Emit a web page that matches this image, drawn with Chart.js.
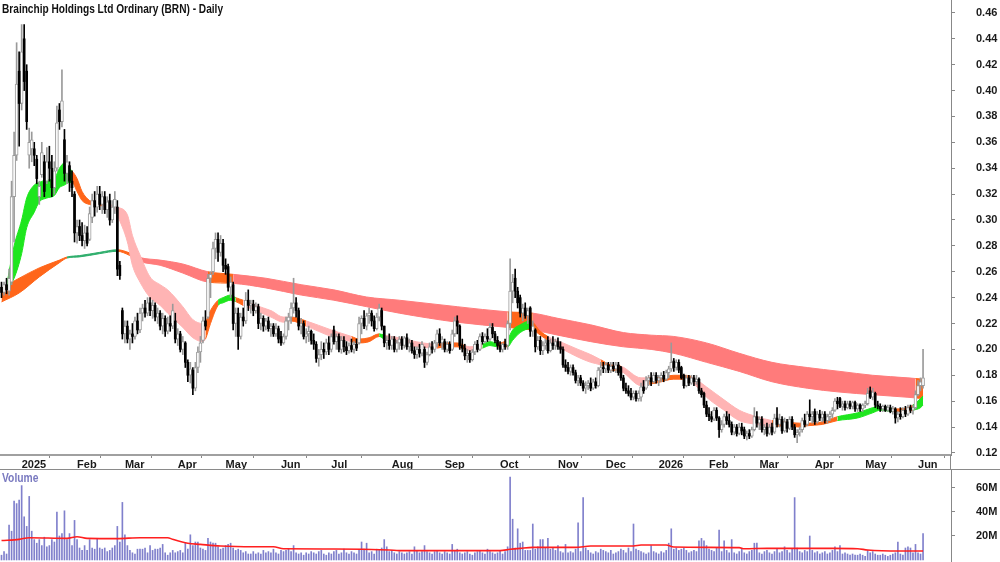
<!DOCTYPE html>
<html>
<head>
<meta charset="utf-8">
<title>Brainchip Holdings Ltd Ordinary (BRN) - Daily</title>
<script src="https://cdn.jsdelivr.net/npm/chart.js@4.4.1/dist/chart.umd.min.js"></script>
<style>
  html, body { margin: 0; padding: 0; background: #fff; }
  #wrap { position: relative; width: 1000px; height: 562px; overflow: hidden;
          font-family: "Liberation Sans", Arial, sans-serif; }
  #price { position: absolute; left: 0; top: 0; }
  #volume { position: absolute; left: 0; top: 470px; }
  .lbl { position: absolute; font-weight: bold; font-size: 12px; line-height: 14px; white-space: nowrap; transform-origin: 0 0; }
  #title { left: 2px; top: 2px; color: #111; }
  #volTitle { left: 2px; top: 471px; color: #7a7ac0; }
  .rule { position: absolute; background: #8a8a8a; }
</style>
</head>
<body>
<div id="wrap">
  <canvas id="price" width="1000" height="469"></canvas>
  <canvas id="volume" width="1000" height="92"></canvas>
  <div class="rule" style="left:0; top:469px; width:1000px; height:1px;"></div>
  <div class="rule" style="left:950px; top:455px; width:1px; height:15px;"></div>
  <div id="title" class="lbl">Brainchip Holdings Ltd Ordinary (BRN) - Daily</div>
  <div id="volTitle" class="lbl">Volume</div>
</div>
<script>
var FONT = '"Liberation Sans", Arial, sans-serif';

// trading days, day 0 = 18 Dec 2024
var monthStart = [8, 30, 49, 70, 89, 111, 131, 155, 176, 198, 221, 240, 261, 281, 301, 323, 343, 364];
var monthLabel = ['2025', 'Feb', 'Mar', 'Apr', 'May', 'Jun', 'Jul', 'Aug', 'Sep', 'Oct', 'Nov', 'Dec', '2026', 'Feb', 'Mar', 'Apr', 'May', 'Jun'];
var priceTicks = [0.12, 0.14, 0.16, 0.18, 0.20, 0.22, 0.24, 0.26, 0.28, 0.30, 0.32, 0.34, 0.36, 0.38, 0.40, 0.42, 0.44, 0.46];
var volumeTicks = [20, 40, 60];

var open = [
.248,.244,.250,.245,.252,.318,.350,.415,.390,.440,
.415,.350,.355,.355,.347,.318,.335,.345,.330,.345,
.340,.325,.340,.385,.376,.362,.336,.342,.330,.320,
.290,.295,.288,.284,.290,.285,.302,.315,.310,.320,
.312,.318,.308,.315,.300,.310,.310,.265,.230,.212,
.218,.208,.212,.210,.222,.215,.228,.232,.228,.236,
.230,.234,.225,.228,.218,.224,.214,.220,.218,.222,
.208,.212,.200,.205,.190,.180,.184,.170,.186,.198,
.207,.222,.225,.255,.260,.278,.285,.275,.282,.265,
.264,.248,.250,.220,.228,.210,.225,.222,.238,.234,
.235,.230,.233,.220,.224,.218,.222,.216,.218,.212,
.216,.210,.205,.210,.222,.225,.232,.236,.230,.218,
.220,.210,.212,.214,.207,.204,.193,.196,.200,.198,
.205,.200,.215,.206,.210,.200,.207,.202,.199,.203,
.200,.204,.205,.220,.224,.218,.226,.228,.222,.216,
.225,.230,.218,.205,.207,.203,.208,.200,.205,.208,
.203,.209,.202,.205,.199,.196,.200,.197,.200,.190,
.196,.202,.200,.205,.212,.205,.206,.200,.204,.200,
.212,.222,.218,.203,.201,.195,.197,.192,.198,.204,
.200,.210,.206,.210,.208,.217,.212,.207,.203,.200,
.204,.203,.220,.245,.255,.245,.240,.228,.232,.226,
.232,.214,.215,.202,.207,.199,.203,.207,.199,.205,
.203,.206,.202,.200,.188,.186,.183,.186,.182,.176,
.178,.174,.170,.172,.174,.170,.175,.172,.184,.186,
.185,.188,.184,.187,.185,.188,.186,.178,.170,.168,
.166,.163,.166,.162,.163,.171,.170,.176,.178,.175,
.180,.176,.178,.180,.177,.182,.185,.191,.186,.190,
.186,.180,.172,.178,.174,.178,.175,.177,.168,.166,
.157,.150,.148,.146,.153,.147,.138,.142,.148,.145,
.142,.136,.140,.135,.140,.138,.133,.135,.133,.138,
.148,.143,.146,.138,.140,.135,.140,.136,.147,.142,
.146,.137,.144,.139,.146,.140,.134,.136,.138,.145,
.142,.150,.148,.152,.144,.150,.147,.150,.145,.148,
.150,.153,.160,.162,.156,.158,.155,.158,.156,.159,
.154,.157,.154,.157,.158,.168,.163,.166,.157,.156,
.154,.156,.153,.155,.152,.154,.147,.150,.148,.153,
.150,.155,.153,.155,.165,.172,.172];
var high = [
.252,.252,.255,.262,.330,.368,.437,.430,.451,.451,
.420,.371,.368,.360,.350,.330,.360,.350,.356,.357,
.350,.345,.388,.390,.416,.370,.350,.345,.338,.322,
.300,.300,.298,.296,.295,.310,.320,.322,.326,.326,
.322,.322,.318,.320,.315,.322,.315,.268,.232,.222,
.222,.215,.220,.225,.228,.232,.235,.238,.240,.240,
.238,.236,.232,.230,.228,.226,.225,.226,.235,.228,
.216,.214,.210,.206,.192,.190,.186,.190,.202,.210,
.225,.230,.258,.260,.283,.290,.290,.288,.285,.270,
.266,.256,.252,.232,.232,.228,.232,.244,.246,.238,
.238,.236,.235,.228,.226,.224,.225,.220,.220,.220,
.218,.214,.212,.225,.228,.236,.255,.240,.232,.224,
.222,.216,.218,.215,.212,.206,.200,.206,.205,.208,
.210,.212,.218,.212,.212,.210,.210,.206,.205,.208,
.206,.208,.225,.226,.230,.228,.232,.230,.226,.228,
.235,.232,.218,.210,.212,.210,.210,.207,.210,.210,
.210,.212,.208,.207,.202,.202,.204,.206,.202,.198,
.205,.206,.207,.215,.216,.210,.208,.206,.206,.215,
.225,.226,.219,.208,.204,.200,.199,.200,.206,.207,
.212,.213,.212,.216,.220,.220,.214,.210,.206,.205,
.208,.222,.270,.258,.262,.248,.242,.235,.236,.232,
.233,.222,.216,.210,.210,.206,.208,.210,.208,.210,
.208,.209,.206,.202,.192,.190,.188,.188,.184,.180,
.180,.176,.175,.176,.178,.177,.178,.186,.190,.190,
.190,.190,.190,.190,.190,.190,.187,.180,.174,.172,
.170,.168,.168,.168,.174,.176,.179,.180,.182,.182,
.182,.180,.182,.183,.184,.187,.205,.193,.192,.192,
.187,.181,.180,.180,.180,.180,.180,.178,.170,.167,
.160,.155,.152,.155,.155,.148,.145,.150,.152,.150,
.144,.142,.142,.143,.143,.140,.137,.138,.140,.155,
.152,.148,.148,.142,.143,.142,.143,.150,.155,.150,
.148,.147,.146,.148,.148,.142,.138,.140,.147,.150,
.152,.161,.152,.154,.152,.153,.152,.152,.150,.152,
.155,.162,.163,.163,.160,.160,.160,.160,.160,.160,
.158,.158,.158,.160,.170,.171,.170,.167,.160,.158,
.157,.157,.157,.157,.156,.155,.152,.155,.155,.156,
.157,.157,.157,.168,.176,.178,.200];
var low = [
.240,.242,.243,.242,.250,.283,.346,.357,.385,.400,
.370,.340,.345,.342,.328,.312,.333,.318,.328,.330,
.318,.320,.338,.370,.372,.330,.328,.322,.318,.283,
.282,.284,.280,.278,.280,.284,.298,.303,.306,.308,
.305,.305,.302,.296,.298,.305,.257,.254,.208,.205,
.205,.200,.205,.208,.212,.213,.222,.225,.226,.226,
.224,.222,.220,.215,.212,.210,.212,.214,.216,.205,
.203,.198,.196,.186,.175,.174,.165,.168,.182,.190,
.205,.215,.224,.240,.258,.270,.268,.272,.260,.258,
.245,.240,.215,.210,.200,.208,.218,.220,.230,.228,
.226,.228,.216,.215,.214,.215,.214,.210,.210,.210,
.205,.203,.204,.208,.215,.220,.228,.225,.215,.212,
.208,.205,.206,.204,.200,.190,.187,.192,.193,.196,
.196,.198,.204,.200,.198,.197,.198,.196,.197,.198,
.197,.199,.204,.212,.216,.215,.220,.218,.214,.215,
.222,.215,.202,.200,.200,.200,.198,.198,.200,.200,
.201,.200,.198,.197,.193,.193,.194,.195,.186,.188,
.195,.197,.198,.202,.203,.200,.198,.198,.197,.199,
.210,.212,.200,.198,.192,.190,.190,.191,.196,.198,
.199,.204,.205,.206,.207,.209,.205,.200,.198,.198,
.200,.200,.215,.236,.240,.232,.225,.222,.224,.220,
.210,.210,.198,.200,.196,.196,.200,.197,.198,.200,
.200,.200,.197,.186,.183,.181,.180,.180,.174,.172,
.172,.168,.166,.169,.168,.169,.170,.171,.180,.182,
.182,.182,.182,.183,.182,.180,.176,.168,.166,.164,
.161,.161,.160,.160,.160,.166,.169,.172,.172,.174,
.174,.172,.175,.175,.176,.178,.183,.183,.184,.182,
.177,.170,.171,.172,.173,.172,.173,.166,.163,.155,
.148,.145,.144,.145,.145,.132,.136,.140,.142,.140,
.134,.134,.133,.134,.134,.131,.130,.131,.132,.137,
.140,.138,.136,.134,.133,.134,.134,.135,.140,.140,
.135,.136,.136,.138,.138,.132,.128,.133,.136,.140,
.141,.145,.143,.142,.143,.145,.144,.143,.143,.145,
.147,.152,.154,.155,.153,.153,.154,.154,.154,.152,
.152,.152,.152,.155,.157,.162,.161,.155,.154,.152,
.152,.152,.152,.151,.150,.143,.144,.146,.147,.148,
.149,.151,.150,.154,.164,.168,.170];
var close = [
.244,.250,.246,.255,.318,.350,.405,.390,.430,.407,
.376,.360,.362,.350,.332,.326,.352,.322,.345,.340,
.325,.338,.375,.376,.392,.336,.345,.330,.325,.290,
.295,.288,.284,.290,.282,.305,.315,.310,.320,.312,
.318,.308,.314,.300,.310,.316,.262,.257,.212,.218,
.208,.212,.210,.222,.215,.228,.232,.228,.236,.230,
.234,.225,.228,.218,.224,.214,.220,.218,.230,.208,
.212,.200,.206,.190,.180,.185,.170,.186,.198,.205,
.222,.218,.255,.258,.278,.285,.275,.282,.265,.262,
.248,.252,.220,.228,.210,.225,.222,.238,.234,.235,
.230,.233,.220,.224,.218,.222,.216,.218,.212,.216,
.208,.205,.210,.222,.225,.232,.236,.230,.218,.220,
.210,.212,.214,.207,.204,.193,.196,.200,.198,.205,
.200,.210,.206,.210,.200,.207,.202,.199,.203,.200,
.204,.201,.220,.224,.218,.226,.228,.222,.216,.225,
.232,.218,.205,.207,.203,.208,.200,.205,.208,.203,
.209,.202,.205,.199,.196,.200,.197,.204,.190,.196,
.202,.200,.205,.212,.205,.208,.200,.204,.199,.212,
.222,.218,.203,.201,.195,.197,.192,.198,.204,.200,
.210,.206,.210,.208,.217,.212,.207,.203,.200,.204,
.202,.220,.245,.252,.245,.236,.228,.232,.226,.230,
.214,.218,.202,.207,.199,.203,.205,.199,.205,.203,
.206,.202,.200,.188,.186,.183,.186,.182,.176,.178,
.174,.170,.172,.174,.170,.175,.172,.184,.186,.185,
.188,.184,.187,.185,.188,.182,.178,.170,.168,.166,
.163,.166,.162,.166,.171,.168,.176,.178,.175,.180,
.176,.178,.180,.177,.182,.185,.190,.186,.190,.184,
.178,.172,.178,.174,.178,.175,.177,.168,.165,.157,
.150,.148,.146,.153,.147,.138,.142,.148,.145,.142,
.136,.140,.135,.140,.137,.133,.135,.133,.138,.148,
.143,.146,.138,.140,.135,.140,.136,.147,.142,.146,
.137,.144,.139,.146,.140,.134,.136,.138,.145,.142,
.150,.148,.150,.144,.150,.147,.150,.145,.148,.150,
.153,.160,.158,.156,.158,.155,.158,.156,.159,.154,
.157,.154,.157,.158,.166,.163,.167,.157,.156,.154,
.156,.153,.155,.152,.154,.147,.150,.148,.153,.150,
.155,.153,.155,.165,.172,.175,.178];

// volume in millions of shares
var volume = [
4,7,5,29,24,49,47,50,62,36,
28,53,24,17,14,17,12,19,11,12,
17,15,40,20,22,41,17,22,12,33,
17,10,8,12,8,17,10,9,18,10,
9,10,7,8,10,12,28,15,48,21,
12,8,6,5,9,9,9,10,6,12,
8,9,9,10,13,6,4,6,8,6,
7,8,6,14,9,21,12,15,15,10,
9,8,18,15,14,14,11,9,10,12,
13,14,10,8,9,8,6,7,5,5,
7,5,6,5,8,6,7,6,9,6,
5,8,7,8,9,7,12,6,5,6,
4,6,5,7,6,5,7,8,5,4,
6,5,7,8,5,6,9,6,5,7,
6,5,8,15,9,14,6,7,5,9,
8,10,17,11,7,8,6,5,7,6,
5,6,7,5,11,8,6,7,12,7,
6,5,7,8,6,5,7,6,5,13,
8,9,6,5,6,7,5,4,6,7,
8,6,5,9,7,6,5,6,8,5,
7,11,69,34,10,26,14,15,8,8,
8,30,9,11,17,17,10,18,9,10,
8,12,7,6,13,6,7,6,9,31,
7,52,10,8,6,5,7,6,9,8,
7,6,8,5,6,7,9,8,6,10,
7,30,9,8,7,6,5,6,12,7,
6,5,7,6,8,14,26,9,10,8,
9,10,8,6,7,8,7,16,18,16,
12,9,8,7,10,25,7,16,8,6,
17,6,5,7,9,6,5,7,8,14,
14,6,5,7,8,6,5,7,9,6,
7,11,8,6,9,52,10,7,6,8,
7,20,8,6,7,5,6,7,5,6,
8,11,7,12,5,6,5,4,5,4,
4,5,4,3,8,6,7,5,4,4,
5,4,3,4,5,6,15,5,4,10,
11,10,6,13,6,5,22];

var volumeMaDay = [0, 7, 11, 26, 30, 34, 46, 55, 66, 68, 74, 79, 87, 100, 108, 112, 132, 154, 158, 198, 202, 206, 211, 228, 234, 251, 254, 264, 267, 293, 295, 304, 330, 340, 344, 357, 366];
var volumeMa = [16.2, 17.2, 18.6, 18, 19.4, 18, 17.8, 18.6, 18.6, 17.2, 13.9, 13, 11.7, 11.1, 11.1, 9.4, 9.2, 8.3, 7.8, 7.8, 8.9, 9.7, 10.5, 10.5, 11.7, 11.7, 12.5, 12.5, 10.8, 10.3, 9.4, 9.7, 9.7, 9.4, 8.3, 7.5, 7.5];

// short-term moving average group, outer edges
var shortDay = [2,5,8,10,13,15,18,21,23,25, 27,28,30,32,35,40,45,46,50,52, 55,59,63,66,72,76,80,81,83,86,
  88,91,93,96,101,107,112,115,121,131, 139,142,146,150,152,158,162,173,176,181, 184,186,191,194,197,201,203,206,210,214,
  217,223,229,234,238,242,246,254,257,260, 267,271,274,280,287,293,300,306,310,317, 320,326,332,340,346,349,354,360,362,365, 366];
var shortTop = [.249,.280,.300,.317,.327,.329,.331,.332,.340,.344, .340,.338,.332,.322,.315,.3125,.311,.310,.304,.288,
  .273,.256,.250,.246,.233,.223,.220,.221,.230,.238, .240,.242,.240,.238,.234,.230,.225,.225,.222,.215,
  .210,.208,.209,.212,.211,.209,.207,.204,.205,.205, .203,.202,.204,.206,.205,.208,.215,.219,.222,.214,
  .210,.205,.200,.196,.192,.188,.187,.178,.178,.178, .180,.180,.179,.171,.161,.153,.148,.145,.144,.143,
  .143,.144,.148,.151,.155,.156,.154,.155,.157,.162, .164];
var shortBottom = [.246,.255,.274,.294,.306,.314,.317,.319,.325,.327, .329,.329,.322,.315,.312,.311,.309,.304,.283,.265,
  .252,.240,.234,.228,.217,.209,.206,.208,.220,.234, .236,.238,.237,.234,.230,.225,.221,.222,.218,.210,
  .206,.205,.206,.210,.208,.205,.203,.201,.202,.202, .200,.199,.201,.203,.202,.202,.207,.213,.216,.211,
  .207,.200,.194,.190,.188,.184,.183,.172,.173,.174, .177,.177,.175,.163,.153,.145,.142,.140,.141,.140,
  .141,.142,.145,.147,.151,.153,.152,.152,.153,.155, .157];

// long-term moving average group, outer edges
var longDay = [0,7,15,23,26,31,39,46,51,55, 63,72,82,92,105,119,132,145,158,181, 201,211,221,234,247,258,267,280,293,306, 320,333,346,360,363,366];
var longTop = [.2475,.255,.263,.269,.2714,.2725,.275,.277,.2745,.271, .269,.266,.260,.258,.255,.250,.246,.2405,.238,.233,
  .229,.228,.224,.219,.213,.211,.210,.205,.197,.190, .186,.183,.180,.178,.1775,.177];
var longBottom = [.2367,.2436,.256,.267,.2706,.2715,.274,.2758,.2725,.268, .265,.259,.252,.251,.2475,.242,.238,.233,.228,.221,
  .217,.215,.211,.206,.202,.200,.197,.190,.183,.175, .170,.167,.165,.163,.1625,.162];

// trend state of each group from a given day on
var shortTrendFrom = [2, 28, 40, 81, 86, 93, 96, 115, 121, 139, 150, 152, 173, 184, 191, 197, 201, 210, 217, 238, 246, 257, 274, 306, 332, 354, 362];
var shortTrend = ['up', 'flat', 'down', 'flat', 'up', 'flat', 'down', 'flat', 'down', 'flat', 'up', 'down', 'flat', 'down', 'up', 'flat', 'up', 'flat', 'down', 'flat', 'down', 'flat', 'down', 'flat', 'up', 'flat', 'up'];
var longTrendFrom = [0, 26, 46, 51, 82, 92, 201, 211, 363];
var longTrend = ['flat', 'up', 'flat', 'down', 'flat', 'down', 'flat', 'down', 'flat'];

var shortColors = { up: '#1ee61e', flat: '#ff661a', down: '#ffb4b4' };
var longColors = { up: '#2fae6c', flat: '#ff661a', down: '#ff7b7b' };
var UP = '#9a9a9a';
var DOWN = '#000000';

var X_MIN = -0.6;
var X_MAX = 377.1;

function trendAt(from, trend, day) {
    var s = trend[0];
    for (var k = 0; k < from.length; k++) {
        if (from[k] <= day) s = trend[k];
    }
    return s;
}

function bandLines(days, top, bottom, from, trend, colors, order) {
    var paint = function (ctx) {
        return colors[trendAt(from, trend, days[ctx.p0DataIndex])];
    };
    function line(values, fill) {
        return {
            type: 'line',
            data: days.map(function (d, k) { return { x: d, y: values[k] }; }),
            fill: fill,
            pointRadius: 0,
            borderWidth: 1,
            cubicInterpolationMode: 'monotone',
            order: order,
            segment: { borderColor: paint, backgroundColor: paint }
        };
    }
    return [line(top, '+1'), line(bottom, false)];
}

function axisFont() {
    return { family: FONT, size: 11, weight: 'bold' };
}

// right-hand axis: fixed width, labels may sit at the very top and bottom
function rightAxisFit(axis) {
    axis.width = 49;
    axis.paddingTop = 0;
    axis.paddingBottom = 0;
}

var days = open.map(function (v, i) { return i; });
var upDays = days.filter(function (i) { return close[i] >= open[i]; });
var downDays = days.filter(function (i) { return close[i] < open[i]; });

function range(list, a, b) {
    return list.map(function (i) { return { x: i, y: [a[i], b[i]] }; });
}

var priceDatasets = []
    .concat(bandLines(longDay, longTop, longBottom, longTrendFrom, longTrend, longColors, 11))
    .concat(bandLines(shortDay, shortTop, shortBottom, shortTrendFrom, shortTrend, shortColors, 10))
    .concat([
        { type: 'bar', data: range(upDays, low, high), backgroundColor: UP, barThickness: 1, grouped: false, order: 4 },
        { type: 'bar', data: range(downDays, low, high), backgroundColor: DOWN, barThickness: 1, grouped: false, order: 3 },
        {
            type: 'bar',
            data: range(upDays, open, close),
            backgroundColor: '#ffffff',
            borderColor: UP,
            borderWidth: 1,
            borderSkipped: false,
            barThickness: 3,
            grouped: false,
            order: 2
        },
        { type: 'bar', data: range(downDays, open, close), backgroundColor: DOWN, barThickness: 2, grouped: false, order: 1 }
    ]);

new Chart(document.getElementById('price'), {
    type: 'bar',
    data: { datasets: priceDatasets },
    options: {
        responsive: false,
        animation: false,
        devicePixelRatio: 1,
        events: [],
        layout: { padding: 0 },
        plugins: { legend: { display: false }, tooltip: { enabled: false } },
        scales: {
            x: {
                type: 'linear',
                min: X_MIN,
                max: X_MAX,
                offset: false,
                position: 'bottom',
                afterBuildTicks: function (axis) {
                    axis.ticks = monthStart.map(function (v) { return { value: v }; });
                },
                afterFit: function (axis) {
                    axis.height = 14;
                    axis.paddingLeft = 0;
                    axis.paddingRight = 0;
                },
                ticks: {
                    autoSkip: false,
                    maxRotation: 0,
                    minRotation: 0,
                    align: 'start',
                    padding: 0,
                    color: '#1a1a1a',
                    font: axisFont(),
                    callback: function (v) { return monthLabel[monthStart.indexOf(v)]; }
                },
                grid: { drawOnChartArea: false, drawTicks: true, tickLength: 3, color: '#888' },
                border: { display: true, color: '#a0a0a0', width: 2 }
            },
            y: {
                type: 'linear',
                position: 'right',
                min: 0.1184,
                max: 0.470,
                afterBuildTicks: function (axis) {
                    axis.ticks = priceTicks.map(function (v) { return { value: v }; });
                },
                afterFit: rightAxisFit,
                ticks: {
                    padding: 21,
                    color: '#1a1a1a',
                    font: axisFont(),
                    callback: function (v) { return v.toFixed(2); }
                },
                grid: { drawOnChartArea: false, tickLength: 4, color: '#888' },
                border: { color: '#888', width: 1 }
            }
        }
    }
});

new Chart(document.getElementById('volume'), {
    type: 'bar',
    data: {
        datasets: [
            {
                type: 'line',
                data: volumeMaDay.map(function (d, k) { return { x: d, y: volumeMa[k] }; }),
                borderColor: '#ff1f1f',
                borderWidth: 1.6,
                pointRadius: 0,
                cubicInterpolationMode: 'monotone',
                order: 0
            },
            {
                type: 'bar',
                data: days.map(function (i) { return { x: i, y: volume[i] }; }),
                backgroundColor: '#8080cc',
                barThickness: 1,
                grouped: false,
                order: 1
            }
        ]
    },
    options: {
        responsive: false,
        animation: false,
        devicePixelRatio: 1,
        events: [],
        layout: { padding: 0 },
        plugins: { legend: { display: false }, tooltip: { enabled: false } },
        scales: {
            x: { type: 'linear', min: X_MIN, max: X_MAX, offset: false, display: false },
            y: {
                type: 'linear',
                position: 'right',
                min: -1.67,
                max: 75,
                afterBuildTicks: function (axis) {
                    axis.ticks = volumeTicks.map(function (v) { return { value: v }; });
                },
                afterFit: rightAxisFit,
                ticks: {
                    padding: 21,
                    color: '#1a1a1a',
                    font: axisFont(),
                    callback: function (v) { return v + 'M'; }
                },
                grid: { drawOnChartArea: false, tickLength: 4, color: '#888' },
                border: { color: '#888', width: 1 }
            }
        }
    }
});

// the reference uses a narrow face; squeeze the two HTML captions to its widths
function squeeze(id, width) {
    var el = document.getElementById(id);
    el.style.transform = 'scaleX(' + (width / el.offsetWidth) + ')';
}
squeeze('title', 221);
squeeze('volTitle', 36);
</script>
</body>
</html>
